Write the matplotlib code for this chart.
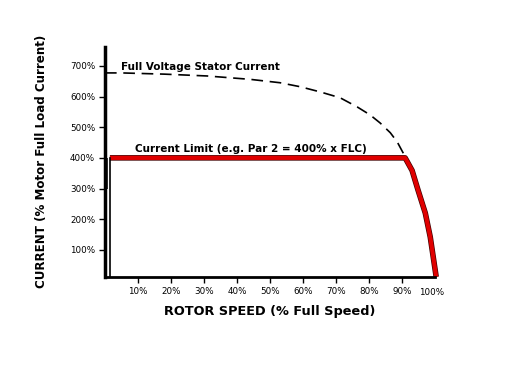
import matplotlib
matplotlib.use("Agg")
import matplotlib.pyplot as plt
import matplotlib.patheffects as pe

# full voltage stator current (dashed)
fv_speed = [0, 5, 18, 31, 44, 53, 59.1, 65.2, 71.2, 76.4, 80.3, 83.3, 86.4, 88.5, 90.3, 90.9]
fv_current = [677, 677, 673, 667, 656, 645, 632, 615, 596, 566, 540, 514, 482, 452, 416, 403]

# current limit curve (red)
cl_speed = [1.5, 90.9, 93, 94.8, 97, 98.5, 99.4, 100.3]
cl_current = [400, 400, 359, 295, 220, 142, 77, 12]

ytick_vals = [100, 200, 300, 400, 500, 600, 700]
xtick_vals = [10, 20, 30, 40, 50, 60, 70, 80, 90, 100]

fig = plt.figure(figsize=(5.12, 3.84), dpi=100)
ax = fig.add_axes([0.205, 0.279, 0.645, 0.599])

ax.plot(fv_speed, fv_current, color='black', lw=1.2, dashes=(7, 4))
ax.plot(cl_speed, cl_current, color='#e00000', lw=3, solid_capstyle='butt',
        solid_joinstyle='round', clip_on=False,
        path_effects=[pe.Stroke(linewidth=4, foreground='#400000'), pe.Normal()])
# rise from zero at standstill
ax.plot([1.5, 1.5], [12, 400], color='black', lw=1.2)
ax.plot([0, 0], [300, 400], color='black', lw=4, solid_capstyle='butt')

ax.text(5, 688, "Full Voltage Stator Current", fontsize=7.5, fontweight='bold')
ax.text(9, 420, "Current Limit (e.g. Par 2 = 400% x FLC)", fontsize=7.5, fontweight='bold')

ax.set_xlim(0, 100)
ax.set_ylim(12, 762)
ax.set_yticks(ytick_vals)
ax.set_yticklabels([str(v) + "%" for v in ytick_vals], fontsize=6.3)
ax.set_xticks(xtick_vals[:-1])
ax.set_xticklabels([str(v) + "%" for v in xtick_vals[:-1]], fontsize=6.3)
ax.text(99, -40, "100%", fontsize=6.3, ha='center', va='center')
ax.tick_params(axis='both', length=4, width=1, pad=3)

for s in ['top', 'right']:
    ax.spines[s].set_visible(False)
ax.spines['left'].set_linewidth(2.5)
ax.spines['bottom'].set_linewidth(2)

ax.set_xlabel("ROTOR SPEED (% Full Speed)", fontsize=9.3, fontweight='bold', labelpad=7)
ax.set_ylabel("CURRENT (% Motor Full Load Current)", fontsize=8.6, fontweight='bold', labelpad=16)

fig.savefig("out.png", dpi=100)
